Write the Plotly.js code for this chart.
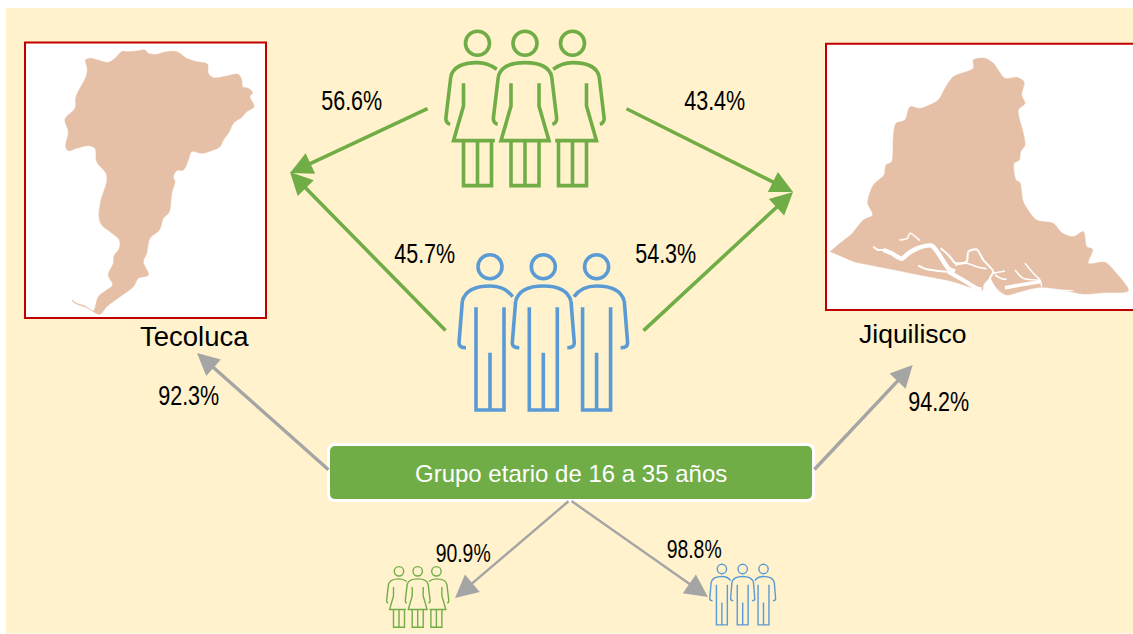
<!DOCTYPE html>
<html>
<head>
<meta charset="utf-8">
<script src="https://cdn.plot.ly/plotly-3.0.1.min.js"></script>
<style>html,body{margin:0;padding:0;background:#fff;overflow:hidden}#chart{width:1133px;height:634px}</style>
</head>
<body>
<div id="chart"></div>
<script>
// ---- values ----
var placeNames = ['Tecoluca', 'Jiquilisco'];
var boxLabel = 'Grupo etario de 16 a 35 años';
var womenShare = [56.6, 43.4];
var menShare = [45.7, 54.3];
var placeShare = [92.3, 94.2];
var genderShare = [90.9, 98.8];

var GREEN = '#70AD47', BLUE = '#5B9BD5', GREY = '#A5A5A5', RED = '#C00000', MAP = '#E6C0A6', BG = '#FFF2CC';

var tecX = [255,270,300,325,345,365,385,410,435,445,470,495,530,560,590,622,625,640,680,715,725,728,745,758,750,762,740,725,700,688,670,660,640,605,575,565,550,530,520,525,515,508,490,478,450,440,430,445,415,400,360,320,300,285,255,230,216,222,258,280,295,320,338,325,340,342,358,358,330,305,297,303,320,318,290,285,265,230,205,197,205,195,225,228,258,262];
var tecY = [180,175,182,187,175,155,155,153,150,160,163,156,155,175,185,192,220,233,228,223,240,260,265,278,290,320,335,352,370,395,420,440,450,460,455,480,510,512,530,545,580,635,655,690,715,760,785,825,835,860,890,920,943,938,918,910,900,908,922,932,890,870,855,825,790,768,745,720,695,675,650,600,545,520,485,445,437,445,452,440,395,358,325,290,230,210];
var jiqX = [60,90,125,160,188,173,190,222,228,245,250,258,285,300,330,385,405,430,490,490,525,550,585,620,642,635,645,625,640,645,632,628,612,618,630,640,680,730,755,790,820,830,848,835,885,915,955,880,820,750,690,630,590,565,550,540,520,518,500,430,330,230,130];
var jiqY = [665,640,612,570,555,518,465,435,405,395,320,280,270,230,235,210,175,140,115,90,85,100,145,142,155,195,220,240,310,345,365,390,400,450,458,515,570,580,608,620,605,650,658,700,697,725,782,788,792,778,772,785,795,780,760,745,765,780,778,755,735,715,695];
// tidal channels, traced on the lower crop
var waterLines = [
  {x:[160,175,190,215,245], y:[140,150,150,160,178], w:2},
  {x:[190,215,245,265,300,335,355,385,405], y:[150,160,176,160,142,137,160,205,215], w:4.5},
  {x:[295,320,350,385], y:[197,208,212,215], w:2},
  {x:[385,420,445,470,485], y:[215,235,250,265,268], w:4},
  {x:[362,385,405], y:[145,165,190], w:2},
  {x:[405,440,445,470,490,520,510,515], y:[190,185,155,148,180,215,235,250], w:2},
  {x:[405,440,475,500], y:[196,190,202,206], w:1.5},
  {x:[520,555], y:[220,213], w:1.5},
  {x:[525,545,560], y:[225,236,238], w:1.5},
  {x:[585,610,660], y:[210,235,240], w:1.5},
  {x:[615,640,660,665], y:[190,220,240,260], w:1.5},
  {x:[555,600,660], y:[263,255,245], w:3.5},
  {x:[238,262,270,300], y:[120,115,100,122], w:1.5},
  {x:[720,760], y:[270,272], w:1}
];

// ---- conversion from crop pixels to page pixels ----
function crop(xs, ys, ox, oy) {
  return { x: xs.map(function (v) { return ox + v / 3; }), y: ys.map(function (v) { return oy + v / 3; }) };
}
var tec = crop(tecX, tecY, 0, 0);
var jiq = crop(jiqX, jiqY, 810, 30);

var traces = [
  { x: tec.x, y: tec.y, mode: 'lines', fill: 'toself', fillcolor: MAP, line: { color: MAP, width: 0.5, shape: 'spline', smoothing: 1 }, hoverinfo: 'skip', showlegend: false },
  { x: jiq.x, y: jiq.y, mode: 'lines', fill: 'toself', fillcolor: MAP, line: { color: MAP, width: 0.5, shape: 'spline', smoothing: 0.8 }, hoverinfo: 'skip', showlegend: false }
];
waterLines.forEach(function (c) {
  var p = crop(c.x, c.y, 820, 200);
  traces.push({ x: p.x, y: p.y, mode: 'lines', line: { color: '#FFFFFF', width: c.w, shape: 'spline', smoothing: 0.7 }, hoverinfo: 'skip', showlegend: false });
});

// ---- pictograms ----
var shapes = [];
shapes.push({ type: 'rect', xref: 'x', yref: 'y', x0: 6, x1: 1133, y0: 8, y1: 633.5, fillcolor: BG, line: { width: 0 }, layer: 'below' });
shapes.push({ type: 'rect', xref: 'x', yref: 'y', x0: 25, x1: 266, y0: 42.5, y1: 318, fillcolor: '#FFFFFF', line: { color: RED, width: 2 }, layer: 'below' });
shapes.push({ type: 'rect', xref: 'x', yref: 'y', x0: 826, x1: 1140, y0: 43.7, y1: 310, fillcolor: '#FFFFFF', line: { color: RED, width: 2 }, layer: 'below' });

function pathFrom(cmds, cx, cy, s) {
  return cmds.map(function (c) {
    var out = c[0];
    for (var i = 1; i < c.length; i += 2) out += ' ' + (cx + c[i] * s).toFixed(2) + ',' + (cy + c[i + 1] * s).toFixed(2);
    return out;
  }).join(' ');
}
function addShape(cmds, cx, cy, s, color, w) {
  shapes.push({ type: 'path', xref: 'x', yref: 'y', path: pathFrom(cmds, cx, cy, s), line: { color: color, width: w }, fillcolor: 'rgba(0,0,0,0)' });
}
function addHead(cx, cy, r, color, w) {
  shapes.push({ type: 'circle', xref: 'x', yref: 'y', x0: cx - r, x1: cx + r, y0: cy - r, y1: cy + r, line: { color: color, width: w } });
}
// role: -1 left of a group, 0 middle (in front), +1 right of a group
function woman(cx, cy, s, role, w) {
  var c = GREEN;
  addHead(cx, cy, 36 * s, c, w);
  var cmds = [];
  if (role <= 0) cmds.push(['M', -80, 100], ['L', -95, 225], ['Q', -95, 240, -82, 243]);
  if (role >= 0) cmds.push(['M', 80, 100], ['L', 95, 225], ['Q', 95, 240, 82, 243]);
  if (role === 0) cmds.push(['M', -80, 100], ['Q', -70, 58, 0, 58], ['Q', 70, 58, 80, 100]);
  if (role === -1) cmds.push(['M', -80, 100], ['Q', -70, 58, 0, 58], ['Q', 30, 58, 58, 78]);
  if (role === 1) cmds.push(['M', -58, 78], ['Q', -30, 58, 0, 58], ['Q', 70, 58, 80, 100]);
  if (role === 0) cmds.push(['M', -42, 120], ['L', -42, 188], ['L', -72, 292], ['L', 72, 292], ['L', 42, 188], ['L', 42, 120]);
  if (role === -1) cmds.push(['M', -42, 120], ['L', -42, 188], ['L', -72, 292], ['L', 52, 292]);
  if (role === 1) cmds.push(['M', 42, 120], ['L', 42, 188], ['L', 72, 292], ['L', -52, 292]);
  cmds.push(['M', -42, 292], ['L', -42, 427], ['L', 42, 427], ['L', 42, 292]);
  cmds.push(['M', 0, 292], ['L', 0, 427]);
  addShape(cmds, cx, cy, s, c, w);
}
function man(cx, cy, s, role, w) {
  var c = BLUE;
  addHead(cx, cy, 36 * s, c, w);
  var cmds = [];
  if (role <= 0) cmds.push(['M', -83, 103], ['L', -93, 228], ['Q', -93, 243, -72, 243]);
  if (role >= 0) cmds.push(['M', 83, 103], ['L', 93, 228], ['Q', 93, 243, 72, 243]);
  if (role === 0) cmds.push(['M', -83, 103], ['Q', -70, 58, 0, 58], ['Q', 70, 58, 83, 103]);
  if (role === -1) cmds.push(['M', -83, 103], ['Q', -70, 58, 0, 58], ['Q', 45, 58, 68, 90]);
  if (role === 1) cmds.push(['M', -68, 90], ['Q', -45, 58, 0, 58], ['Q', 70, 58, 83, 103]);
  cmds.push(['M', -42, 122], ['L', -42, 430], ['L', 42, 430], ['L', 42, 122]);
  cmds.push(['M', 0, 258], ['L', 0, 430]);
  addShape(cmds, cx, cy, s, c, w);
}
function group(fn, cx, cy, gap, s, w) {
  fn(cx - gap, cy, s, -1, w);
  fn(cx + gap, cy, s, 1, w);
  fn(cx, cy, s, 0, w);
}
group(woman, 525, 43.3, 47.5, 1 / 3, 3.6);
group(man, 543.3, 266.7, 53.3, 1 / 3, 3.6);
group(woman, 417.7, 571.3, 18.7, 0.131, 1.4);
group(man, 742.7, 569, 20.8, 0.13, 1.4);

// label box
var bx0 = 328.5, bx1 = 813.5, by0 = 444.5, by1 = 500.5, br = 7;
shapes.push({ type: 'path', xref: 'x', yref: 'y', fillcolor: GREEN, line: { color: '#FFFFFF', width: 3 },
  path: 'M ' + (bx0 + br) + ',' + by0 + ' L ' + (bx1 - br) + ',' + by0 + ' Q ' + bx1 + ',' + by0 + ' ' + bx1 + ',' + (by0 + br) +
        ' L ' + bx1 + ',' + (by1 - br) + ' Q ' + bx1 + ',' + by1 + ' ' + (bx1 - br) + ',' + by1 +
        ' L ' + (bx0 + br) + ',' + by1 + ' Q ' + bx0 + ',' + by1 + ' ' + bx0 + ',' + (by1 - br) +
        ' L ' + bx0 + ',' + (by0 + br) + ' Q ' + bx0 + ',' + by0 + ' ' + (bx0 + br) + ',' + by0 + ' Z' });

// ---- arrows and text ----
var annotations = [];
function arrow(x0, y0, x1, y1, color, w, size) {
  annotations.push({ x: x1, y: y1, ax: x0, ay: y0, xref: 'x', yref: 'y', axref: 'x', ayref: 'y', text: '', showarrow: true,
    arrowhead: 2, arrowsize: size, arrowwidth: w, arrowcolor: color, standoff: 0, startstandoff: 0 });
}
arrow(429, 108, 290, 173, GREEN, 3.6, 1.25);
arrow(447, 332, 290, 172, GREEN, 3.6, 1.25);
arrow(625, 108, 793, 192, GREEN, 3.6, 1.25);
arrow(642, 332, 793, 192, GREEN, 3.6, 1.25);
arrow(330, 471, 197, 353, GREY, 3.4, 1.3);
arrow(813, 471, 912.7, 365, GREY, 3.4, 1.3);
arrow(570, 500, 455, 598, GREY, 2.4, 1.9);
arrow(570, 500, 708, 597, GREY, 2.4, 1.9);

function label(text, x, y, size, color, family) {
  annotations.push({ x: x, y: y, xref: 'x', yref: 'y', text: text, showarrow: false, xanchor: 'center', yanchor: 'middle',
    font: { size: size, color: color, family: family } });
}
var SANS = '"Liberation Sans", Arial, sans-serif';
function pct(v) { return v.toFixed(1) + '%'; }
label(pct(womenShare[0]), 351, 100.5, 28, '#000000', SANS);
label(pct(womenShare[1]), 714, 100.5, 28, '#000000', SANS);
label(pct(menShare[0]), 424, 253, 28, '#000000', SANS);
label(pct(menShare[1]), 665, 253, 28, '#000000', SANS);
label(pct(placeShare[0]), 188, 395, 28, '#000000', SANS);
label(pct(placeShare[1]), 938, 401, 28, '#000000', SANS);
label(pct(genderShare[0]), 463, 553, 25.5, '#000000', SANS);
label(pct(genderShare[1]), 693.5, 549, 25.5, '#000000', SANS);
label(placeNames[0], 194.5, 336, 27.5, '#000000', SANS);
label(placeNames[1], 913, 334, 26.5, '#000000', SANS);
label(boxLabel, 571, 473, 24, '#FFFFFF', SANS);

var hidden = { visible: false, fixedrange: true, autorange: false };
var layout = {
  width: 1133, height: 634,
  margin: { l: 0, r: 0, t: 0, b: 0, pad: 0 },
  paper_bgcolor: '#FFFFFF', plot_bgcolor: '#FFFFFF',
  showlegend: false,
  xaxis: Object.assign({}, hidden, { range: [0, 1133] }),
  yaxis: Object.assign({}, hidden, { range: [634, 0] }),
  shapes: shapes,
  annotations: annotations
};
Plotly.newPlot('chart', traces, layout, { displayModeBar: false, staticPlot: true }).then(function () {
  // the reference sets its percentages in a condensed cut
  var small = genderShare.map(pct);
  document.querySelectorAll('.annotation-text').forEach(function (t) {
    var s = t.textContent;
    if (/%$/.test(s)) {
      t.setAttribute('textLength', small.indexOf(s) >= 0 ? '55' : '61');
      t.setAttribute('lengthAdjust', 'spacingAndGlyphs');
    }
  });
});
</script>
</body>
</html>
